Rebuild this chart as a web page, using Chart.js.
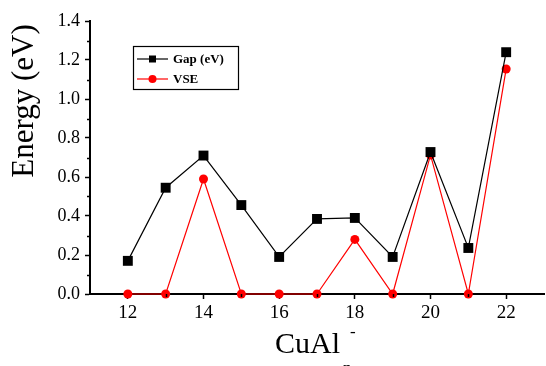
<!DOCTYPE html>
<html>
<head>
<meta charset="utf-8">
<script src="https://cdn.jsdelivr.net/npm/chart.js@4"></script>
<style>
    html, body { margin: 0; padding: 0; background: #fff; overflow: hidden; }
    #wrap { width: 551px; height: 366px; }
</style>
</head>
<body>
<div id="wrap"><canvas id="energyChart"></canvas></div>
<script>
const clusterSizes = [12, 13, 14, 15, 16, 17, 18, 19, 20, 21, 22];
const gapValues = [0.17, 0.545, 0.71, 0.456, 0.19, 0.385, 0.39, 0.19, 0.728, 0.236, 1.24];
const vseValues = [0, 0, 0.59, 0, 0, 0, 0.28, 0, 0.713, 0, 1.154];
const xTickValues = [12, 14, 16, 18, 20, 22];
const yTickValues = [0, 0.2, 0.4, 0.6, 0.8, 1.0, 1.2, 1.4];
const seriesLabels = ['Gap (eV)', 'VSE'];
const yTitle = 'Energy (eV)';
const xTitle = 'CuAl';

const serif = '"Liberation Serif", "Times New Roman", serif';

const toPoints = values => clusterSizes.map((n, i) => ({ x: n, y: values[i] }));

// minor ticks, titles and the boxed legend, drawn Origin style
const decorations = {
    id: 'decorations',
    afterDraw(chart) {
        const ctx = chart.ctx;
        const area = chart.chartArea;
        const xs = chart.scales.x;
        const ys = chart.scales.y;
        ctx.save();
        ctx.strokeStyle = '#000';
        ctx.lineWidth = 1.5;
        // minor ticks
        for (let v = 0.1; v < 1.4; v += 0.2) {
            const py = Math.round(ys.getPixelForValue(v)) + 0.5;
            ctx.beginPath();
            ctx.moveTo(area.left - 3, py);
            ctx.lineTo(area.left, py);
            ctx.stroke();
        }
        for (let v = 13; v <= 21; v += 2) {
            const px = Math.round(xs.getPixelForValue(v)) + 0.5;
            ctx.beginPath();
            ctx.moveTo(px, area.bottom);
            ctx.lineTo(px, area.bottom + 3);
            ctx.stroke();
        }

        // axis titles
        ctx.fillStyle = '#000';
        ctx.font = '31px ' + serif;
        ctx.textAlign = 'center';
        ctx.textBaseline = 'middle';
        ctx.save();
        ctx.translate(25, 101);
        ctx.rotate(-Math.PI / 2);
        ctx.fillText(yTitle, 0, 0);
        ctx.restore();

        ctx.font = '30px ' + serif;
        ctx.textAlign = 'left';
        ctx.textBaseline = 'alphabetic';
        ctx.fillText(xTitle, 275, 353);
        const w = ctx.measureText(xTitle).width;
        ctx.font = '17px ' + serif;
        ctx.fillText('n', 275 + w + 3, 373);
        ctx.fillText('-', 275 + w + 10, 337);

        // legend box
        const lx = area.left + 43;
        const ly = area.top + 25;
        ctx.lineWidth = 1.2;
        ctx.strokeRect(lx + 0.5, ly + 0.5, 105, 43);
        ctx.font = 'bold 13px ' + serif;
        ctx.textBaseline = 'middle';
        chart.data.datasets.forEach((ds, i) => {
            const ry = ly + 13 + i * 20;
            ctx.strokeStyle = ds.borderColor;
            ctx.fillStyle = ds.borderColor;
            ctx.lineWidth = 1.2;
            ctx.beginPath();
            ctx.moveTo(lx + 4, ry);
            ctx.lineTo(lx + 35, ry);
            ctx.stroke();
            ctx.beginPath();
            if (ds.pointStyle === 'rect') {
                ctx.rect(lx + 16, ry - 3.5, 7, 7);
            } else {
                ctx.arc(lx + 19.5, ry, 4, 0, Math.PI * 2);
            }
            ctx.fill();
            ctx.fillStyle = '#000';
            ctx.fillText(ds.label, lx + 40, ry + 1);
        });
        ctx.restore();
    }
};

const ctxEnergy = document.getElementById('energyChart').getContext('2d');
new Chart(ctxEnergy, {
    type: 'line',
    data: {
        datasets: [{
            label: seriesLabels[0],
            data: toPoints(gapValues),
            borderColor: '#000',
            backgroundColor: '#000',
            borderWidth: 1.2,
            pointStyle: 'rect',
            pointRadius: 7,
            pointBorderWidth: 0,
            tension: 0
        }, {
            label: seriesLabels[1],
            data: toPoints(vseValues),
            borderColor: '#ff0000',
            backgroundColor: '#ff0000',
            borderWidth: 1.2,
            pointStyle: 'circle',
            pointRadius: 4.5,
            pointBorderWidth: 0,
            tension: 0
        }]
    },
    options: {
        responsive: true,
        maintainAspectRatio: false,
        animation: false,
        clip: false,
        layout: {
            padding: { top: 21, right: 0, left: 0, bottom: 0 }
        },
        plugins: {
            legend: { display: false },
            tooltip: { enabled: false }
        },
        scales: {
            x: {
                type: 'linear',
                min: 11,
                max: 23,
                afterBuildTicks: scale => {
                    scale.ticks = xTickValues.map(v => ({ value: v }));
                },
                afterFit: scale => { scale.height = 72; },
                border: { color: '#000', width: 2 },
                grid: {
                    drawOnChartArea: false,
                    drawTicks: true,
                    tickLength: 5,
                    tickColor: '#000',
                    tickWidth: 1.5
                },
                ticks: {
                    color: '#000',
                    padding: 3,
                    maxRotation: 0,
                    font: { family: serif, size: 19 }
                }
            },
            y: {
                min: 0,
                max: 1.4,
                afterBuildTicks: scale => {
                    scale.ticks = yTickValues.map(v => ({ value: v }));
                },
                afterFit: scale => { scale.width = 90; },
                border: { color: '#000', width: 2 },
                grid: {
                    drawOnChartArea: false,
                    drawTicks: true,
                    tickLength: 5,
                    tickColor: '#000',
                    tickWidth: 1.5
                },
                ticks: {
                    color: '#000',
                    padding: 5,
                    callback: value => value.toFixed(1),
                    font: { family: serif, size: 18 }
                }
            }
        }
    },
    plugins: [decorations]
});
</script>
</body>
</html>
